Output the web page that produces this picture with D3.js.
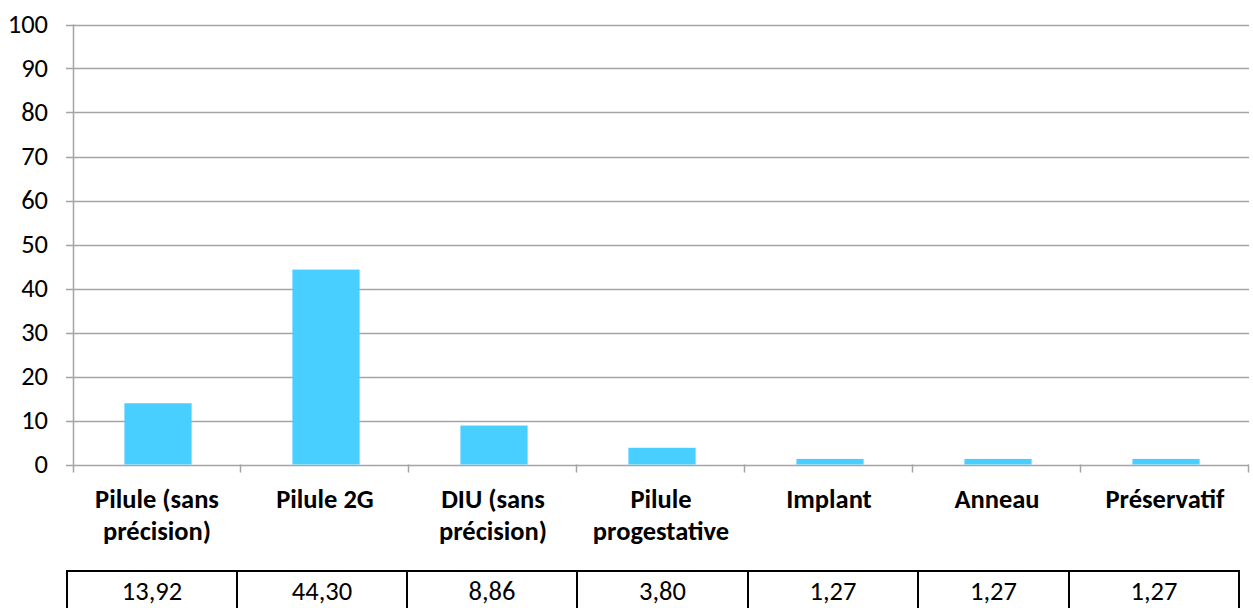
<!doctype html>
<html>
<head>
<meta charset="utf-8">
<title>Contraception</title>
<script src="https://d3js.org/d3.v7.min.js"></script>
<style>
  body { margin: 0; background: #fff; }
  text { font-family: Carlito, Lato, "Open Sans", sans-serif; fill: #000; }
</style>
</head>
<body>
<script>
// data
var categories = ["Pilule (sans précision)", "Pilule 2G", "DIU (sans précision)", "Pilule progestative", "Implant", "Anneau", "Préservatif"];
var labelLines = [["Pilule (sans", "précision)"], ["Pilule 2G"], ["DIU (sans", "précision)"], ["Pilule", "progestative"], ["Implant"], ["Anneau"], ["Préservatif"]];
var values = [13.92, 44.30, 8.86, 3.80, 1.27, 1.27, 1.27];
var yTicks = [0, 10, 20, 30, 40, 50, 60, 70, 80, 90, 100];
// table cell edges (the table below the chart isn't evenly spaced)
var tableEdges = [67, 237, 407, 577, 748, 918, 1069, 1239];

var W = 1253, H = 608;
var plot = {left: 73, right: 1249, top: 24.5, bottom: 464.5};
var fs = "26.5px";

var svg = d3.select("body").append("svg")
    .attr("width", W)
    .attr("height", H);

var x = d3.scaleBand()
    .domain(categories)
    .range([plot.left, plot.right])
    .paddingInner(0)
    .paddingOuter(0);

var y = d3.scaleLinear()
    .domain([0, 100])
    .range([plot.bottom, plot.top]);

var fmt = function(v) { return d3.format(".2f")(v).replace(".", ","); };

// gridlines + y ticks
svg.append("g").selectAll("line")
    .data(yTicks)
    .enter().append("line")
    .attr("x1", plot.left - 7)
    .attr("x2", plot.right)
    .attr("y1", d => Math.round(y(d)) + 0.5)
    .attr("y2", d => Math.round(y(d)) + 0.5)
    .attr("stroke", "#a5a5a5")
    .attr("stroke-width", 1.5);

svg.append("g").selectAll("text")
    .data(yTicks)
    .enter().append("text")
    .attr("x", 48)
    .attr("y", d => y(d))
    .attr("dy", "0.33em")
    .attr("text-anchor", "end")
    .attr("font-size", fs)
    .text(d => d);

// y axis line
svg.append("line")
    .attr("x1", plot.left + 0.5).attr("x2", plot.left + 0.5)
    .attr("y1", plot.top).attr("y2", plot.bottom + 8)
    .attr("stroke", "#a5a5a5")
    .attr("stroke-width", 1.5);

// category ticks
var bounds = categories.map(c => x(c)).concat([plot.right]);
svg.append("g").selectAll("line")
    .data(bounds.slice(1))
    .enter().append("line")
    .attr("x1", d => Math.round(d) - 0.5)
    .attr("x2", d => Math.round(d) - 0.5)
    .attr("y1", plot.bottom)
    .attr("y2", plot.bottom + 8)
    .attr("stroke", "#a5a5a5")
    .attr("stroke-width", 1.5);

// bars
var barW = x.bandwidth() * 0.4;
svg.append("g").selectAll("rect")
    .data(values)
    .enter().append("rect")
    .attr("x", (d, i) => x(categories[i]) + x.bandwidth() / 2 - barW / 2 + 1)
    .attr("y", d => y(d))
    .attr("width", barW)
    .attr("height", d => y(0) - y(d))
    .attr("fill", "#48cfff");

// category labels
var lab = svg.append("g").selectAll("text")
    .data(labelLines)
    .enter().append("text")
    .attr("text-anchor", "middle")
    .attr("font-size", fs)
    .attr("font-weight", "bold")
    .attr("transform", (d, i) => "translate(" + (x(categories[i]) + x.bandwidth() / 2) + ",0)");
lab.selectAll("tspan")
    .data(d => d)
    .enter().append("tspan")
    .attr("x", 0)
    .attr("y", (d, j) => 508 + j * 31.5)
    .text(d => d);

// data table
var tbl = svg.append("g");
tbl.append("line")
    .attr("x1", tableEdges[0] - 1).attr("x2", tableEdges[tableEdges.length - 1] + 1)
    .attr("y1", 571).attr("y2", 571)
    .attr("stroke", "#000").attr("stroke-width", 2);
tbl.selectAll("line.edge")
    .data(tableEdges)
    .enter().append("line")
    .attr("class", "edge")
    .attr("x1", d => d).attr("x2", d => d)
    .attr("y1", 570).attr("y2", H)
    .attr("stroke", "#000").attr("stroke-width", 2);
tbl.selectAll("text")
    .data(values)
    .enter().append("text")
    .attr("x", (d, i) => (tableEdges[i] + tableEdges[i + 1]) / 2)
    .attr("y", 599.5)
    .attr("text-anchor", "middle")
    .attr("font-size", fs)
    .text(d => fmt(d));
</script>
</body>
</html>
